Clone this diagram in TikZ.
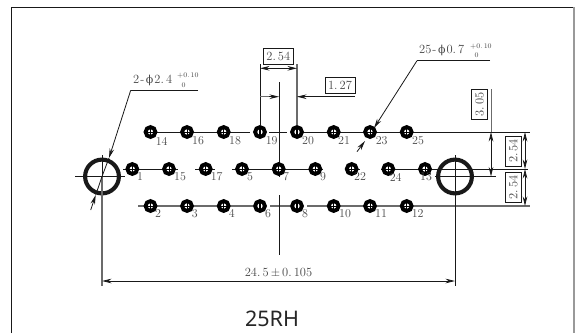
\documentclass[tikz,border=0pt]{standalone}
\usepackage{fontspec}
\newfontfamily\titlefont{Noto Sans}
\newfontfamily\gk{DejaVu Serif}
\usetikzlibrary{arrows.meta}
\definecolor{txt}{gray}{0.28}
\definecolor{ln}{gray}{0.1}
\definecolor{gln}{gray}{0.42}
\newcommand{\dia}{\hspace{1.5pt}{\gk\fontsize{11}{11}\selectfont ϕ}\hspace{1pt}}
\tikzset{
  x=1pt,y=-1pt,
  holenode/.style={circle,draw=black,fill=white,line width=3.9pt,inner sep=0pt,minimum size=9.8pt},
  bigcirc/.style={circle,draw=ln,line width=4.1pt,inner sep=0pt,minimum size=33.8pt},
  pinlabel/.style={text=txt,font=\fontsize{12}{12}\selectfont,inner sep=0pt},
  dimbox/.style={draw=ln,line width=0.8pt,fill=white,text=txt,font=\fontsize{12.5}{12}\selectfont,inner sep=0pt,minimum width=30pt,minimum height=16pt},
  notetext/.style={text=txt,font=\fontsize{12.5}{12}\selectfont,inner sep=0pt},
  toltext/.style={text=txt,font=\fontsize{7}{7}\selectfont,inner sep=0pt},
  thinline/.style={draw=ln,line width=0.8pt},
  rowline/.style={draw=ln,line width=0.9pt},
  grayrow/.style={draw=gln,line width=1.1pt},
  dimline/.style={draw=ln,line width=0.8pt,{Stealth[length=9.5pt,width=4.6pt]}-{Stealth[length=9.5pt,width=4.6pt]}},
  leadtip/.style={draw=ln,line width=0.8pt,-{Stealth[length=9.5pt,width=4.6pt]}},
}
\begin{document}
\begin{tikzpicture}
\useasboundingbox (0,0) rectangle (575,333);
\fill[white] (0,0) rectangle (575,333);
% frame
\coordinate (fa) at (11.5,333); \coordinate (fb) at (11.5,7); \coordinate (fc) at (573.5,7); \coordinate (fd) at (573.5,333);
\draw[ln,line width=0.9pt] (fa) -- (fb) -- (fc);
\draw[gray!80,line width=2pt] (fc) -- (fd);
% row lines
\foreach \a/\b/\y in {150/250/132,269/287/132,297/530/132,123/178/169,195/215/169,232/323/169,345/360/169,381/528/169}{
  \coordinate (p) at (\a,\y); \coordinate (q) at (\b,\y); \draw[rowline] (p) -- (q);}
\foreach \a/\b in {138/253,270/290,307/530}{
  \coordinate (p) at (\a,206); \coordinate (q) at (\b,206); \draw[grayrow] (p) -- (q);}
% centre lines
\coordinate (c7a) at (279,82); \coordinate (c7b) at (279,177); \coordinate (c7c) at (279,195); \coordinate (c7d) at (279,255);
\draw[thinline] (c7a) -- (c7b);
\draw[thinline] (c7c) -- (c7d);
% big circles
\node[bigcirc] (L) at (102,176.5) {};
\node[bigcirc] (R) at (455,176.5) {};
\coordinate (La) at (75,176.5); \coordinate (Lb) at (125,176.5);
\coordinate (Ra) at (435,176.5); \coordinate (Rb) at (496,176.5);
\coordinate (Lt) at (102,155); \coordinate (Lbot) at (102,285.7);
\coordinate (Rt) at (455,155); \coordinate (Rbot) at (455,285.7);
\draw[thinline] (La) -- (Lb);
\draw[thinline] (Ra) -- (Rb);
\draw[thinline] (Lt) -- (L.center);
\draw[draw=gln,line width=1.2pt] (L.center) -- (Lbot);
\draw[thinline] (Rt) -- (Rbot);
% holes
\foreach \n/\x/\y in {14/150.5/132,16/187/132,18/223.7/132,21/333.7/132,23/370/132,25/406.7/132,
  1/132.3/169,15/169/169,17/205.7/169,5/242/169,7/278.7/169,9/315.3/169,22/351.7/169,24/388.3/169,13/425/169,
  2/150.5/206,3/187/206,4/223.7/206,10/333.7/206,11/370/206,12/406.7/206}{
  \node[holenode] (h\n) at (\x,\y) {};
  \draw[black,line width=0.6pt] ([xshift=-3pt]h\n.center) -- ([xshift=3pt]h\n.center);
  \draw[black,line width=0.6pt] ([yshift=-3pt]h\n.center) -- ([yshift=3pt]h\n.center);
}
\foreach \n/\x/\y in {19/260/132,20/297/132,6/260/206,8/297/206}{
  \node[holenode] (h\n) at (\x,\y) {};
  \draw[black,line width=1.1pt] ([yshift=-3.5pt]h\n.center) -- ([yshift=3.5pt]h\n.center);
}
% pin numbers
\foreach \n/\x/\y in {14/161.7/141,16/198/141,18/235/141,19/271.7/141,20/308/141,21/344/141,23/381.7/141,25/418/141,
  1/140/176.5,15/180/177,17/216.7/177,5/250/177,7/286/177,9/323/177,22/360/177,24/395.7/177,13/426/177,
  2/158/213.7,3/194.7/213.7,4/231.7/213.7,6/268/213.7,8/305/213.7,10/345/213.7,11/381/213.7,12/417.7/213.7}{
  \node[pinlabel] (n\n) at (\x,\y) {\n};
}
% top dimensions
\node[dimbox] (d254) at (278.3,56.3) {2.\,54};
\node[dimbox] (d127) at (340,85) {1.\,27};
\coordinate (e19) at (260,64); \coordinate (e20) at (297,64);
\draw[thinline,line width=0.9pt] (e19) -- (h19.north);
\draw[draw=gln,line width=1.2pt] (e20) -- (h20.north);
\coordinate (a19) at (260,68.3); \coordinate (a20) at (297,68.3);
\draw[dimline] (a19) -- (a20);
\coordinate (k0) at (260,96.7); \coordinate (k1) at (279,96.7); \coordinate (k1a) at (269,96.7);
\coordinate (k2) at (297,96.7); \coordinate (k3) at (355,96.7);
\draw[draw=gln,line width=0.9pt] (k0) -- (k1a);
\draw[leadtip] (k1a) -- (k1);
\draw[draw=gln,line width=0.9pt] (k2) -- (k3);
\draw[leadtip] (k3) -- (k2);
% right dimensions
\node[dimbox,rotate=90] (d305) at (479.5,104.5) {3.\,05};
\node[dimbox,rotate=90] (d254a) at (513.3,151) {2.\,54};
\node[dimbox,rotate=90] (d254b) at (513.3,187.5) {2.\,54};
\coordinate (v0) at (491,89); \coordinate (v1) at (491,132); \coordinate (v2) at (491,176.5);
\draw[draw=gln,line width=0.9pt] (v0) -- (v1);
\draw[dimline] (v1) -- (v2);
\coordinate (w0) at (525,132); \coordinate (w1) at (525,169); \coordinate (w2) at (525,206);
\draw[dimline] (w0) -- (w1);
\draw[dimline] (w1) -- (w2);
% bottom dimension
\coordinate (u0) at (102,281); \coordinate (u1) at (455,281);
\draw[dimline] (u0) -- (u1);
\node[notetext] (d245) at (278.5,272.5) {24.\,5\,$\pm$\,0.\,105};
% left leader
\node[notetext,anchor=west] (t1) at (133,80) {2\hspace{1pt}-\dia2.\,4};
\node[toltext,anchor=west] (t1a) at (177,75.5) {+0.\,10};
\node[toltext,anchor=west] (t1b) at (181.5,85) {0};
\coordinate (l0) at (198,90.3); \coordinate (l1) at (130.7,90.3); \coordinate (l2) at (109,158);
\coordinate (l3) at (90.7,210); \coordinate (l4) at (95.7,195); \coordinate (l5) at (102,176.5);
\draw[thinline] (l0) -- (l1);
\draw[leadtip] (l1) -- (l2);
\draw[thinline] (l2) -- (l5) -- (l4);
\draw[leadtip] (l3) -- (l4);
% right leader
\node[notetext,anchor=west] (t2) at (419,50) {25\hspace{1pt}-\dia0.\,7};
\node[toltext,anchor=west] (t2a) at (470,46.5) {+0.\,10};
\node[toltext,anchor=west] (t2b) at (474.5,55.5) {0};
\coordinate (r0) at (490,60.7); \coordinate (r1) at (417,60.7); \coordinate (r2) at (374,128);
\coordinate (r3) at (357,151.7); \coordinate (r4) at (365,141);
\draw[thinline] (r0) -- (r1);
\draw[leadtip] (r1) -- (r2);
\draw[leadtip] (r3) -- (r4);
% title
\node[text=black!85,font=\titlefont\fontsize{21.5}{22}\selectfont,inner sep=0pt] (title) at (272,318.5) {25RH};
\end{tikzpicture}
\end{document}
